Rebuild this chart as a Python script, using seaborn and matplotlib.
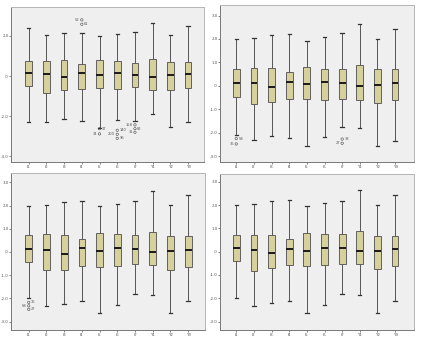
import numpy as np
import pandas as pd
import matplotlib
matplotlib.use("Agg")
import matplotlib.pyplot as plt
import seaborn as sns

categories = ["I1", "I2", "I3", "I4", "I5", "I6", "I7", "Y1", "Y2", "Y3"]

# each entry: [lower whisker, Q1, median, Q3, upper whisker]
panel1_stats = [
    [-2.31, -0.50, 0.13, 0.74, 2.41],
    [-2.28, -0.83, 0.08, 0.74, 2.07],
    [-2.15, -0.69, -0.03, 0.78, 2.15],
    [-2.26, -0.66, 0.13, 0.58, 2.15],
    [-2.60, -0.61, 0.05, 0.79, 1.98],
    [-2.21, -0.66, 0.17, 0.74, 2.10],
    [-2.23, -0.56, 0.05, 0.63, 2.20],
    [-1.88, -0.69, -0.03, 0.84, 2.66],
    [-2.55, -0.69, 0.05, 0.71, 2.03],
    [-2.31, -0.61, 0.08, 0.69, 2.51],
]
panel2_stats = [
    [-2.10, -0.48, 0.14, 0.71, 2.00],
    [-2.30, -0.78, 0.11, 0.77, 2.03],
    [-2.16, -0.71, -0.03, 0.77, 2.17],
    [-2.24, -0.55, 0.18, 0.60, 2.21],
    [-2.58, -0.55, 0.07, 0.79, 1.93],
    [-2.20, -0.60, 0.17, 0.74, 2.10],
    [-1.76, -0.57, 0.11, 0.71, 2.24],
    [-1.80, -0.62, 0.01, 0.89, 2.64],
    [-2.55, -0.74, 0.04, 0.71, 2.00],
    [-2.37, -0.60, 0.14, 0.71, 2.41],
]
panel3_stats = [
    [-1.99, -0.43, 0.14, 0.71, 2.00],
    [-2.33, -0.79, 0.07, 0.76, 2.01],
    [-2.23, -0.76, -0.10, 0.71, 2.16],
    [-2.10, -0.59, 0.16, 0.56, 2.21],
    [-2.64, -0.63, 0.04, 0.81, 1.97],
    [-2.30, -0.61, 0.16, 0.76, 2.07],
    [-1.81, -0.53, 0.11, 0.71, 2.19],
    [-1.84, -0.57, 0.01, 0.87, 2.64],
    [-2.63, -0.76, 0.03, 0.67, 2.01],
    [-2.10, -0.63, 0.10, 0.67, 2.44],
]
panel4_stats = [
    [-1.99, -0.41, 0.16, 0.71, 2.00],
    [-2.31, -0.81, 0.07, 0.71, 2.04],
    [-2.21, -0.71, -0.06, 0.71, 2.19],
    [-2.10, -0.57, 0.10, 0.54, 2.21],
    [-2.64, -0.63, 0.04, 0.81, 1.97],
    [-2.27, -0.59, 0.16, 0.76, 2.09],
    [-1.81, -0.53, 0.14, 0.76, 2.19],
    [-1.84, -0.53, 0.04, 0.89, 2.64],
    [-2.63, -0.74, 0.04, 0.69, 2.01],
    [-2.10, -0.61, 0.10, 0.67, 2.44],
]

# outliers: (category, value, case label)
panel1_outliers = [("I4", 2.58, "61"), ("I4", 2.80, "52"),
                   ("I5", -2.62, "17"), ("I5", -2.88, "34"),
                   ("I6", -2.70, "140"), ("I6", -2.90, "200"), ("I6", -3.10, "96"),
                   ("I7", -2.43, "158"), ("I7", -2.62, "82"), ("I7", -2.80, "31")]
panel2_outliers = [("I1", -2.25, "58"), ("I1", -2.48, "36"),
                   ("I7", -2.27, "38"), ("I7", -2.45, "27")]
panel3_outliers = [("I1", -2.17, "36"), ("I1", -2.32, "58"), ("I1", -2.47, "27")]
panel4_outliers = []

panel1_ticks = [2, 0, -2, -4]
panel1_ticklabels = ["2.0", ".0", "-2.0", "-4.0"]
other_ticks = [3, 2, 1, 0, -1, -2, -3]
other_ticklabels = ["3.0", "2.0", "1.0", ".0", "-1.0", "-2.0", "-3.0"]

W, H = 424, 342
fig = plt.figure(figsize=(W / 100, H / 100), dpi=100)
fig.patch.set_facecolor("white")

def rect(l, t, r, b):
    return [l / W, (H - b) / H, (r - l) / W, (b - t) / H]

panels = [
    (rect(11, 7, 204, 162), panel1_stats, panel1_outliers, (-4.28, 3.44), (-1.0, 9.9), panel1_ticks, panel1_ticklabels),
    (rect(220, 5, 414, 162), panel2_stats, panel2_outliers, (-3.25, 3.45), (-0.92, 10.07), other_ticks, other_ticklabels),
    (rect(11, 173, 205, 330), panel3_stats, panel3_outliers, (-3.36, 3.4), (-1.0, 9.95), other_ticks, other_ticklabels),
    (rect(220, 174, 414, 330), panel4_stats, panel4_outliers, (-3.36, 3.33), (-0.92, 10.07), other_ticks, other_ticklabels),
]

box_fill = "#d6d19c"
edge = "#4d4d4d"

for pos, stats, outs, ylim, xlim, ticks, ticklabels in panels:
    ax = fig.add_axes(pos)
    ax.set_facecolor("#efefef")
    rows = []
    for cat, vals in zip(categories, stats):
        for v in vals:
            rows.append((cat, v))
    df = pd.DataFrame(rows, columns=["item", "value"])
    sns.boxplot(data=df, x="item", y="value", order=categories, ax=ax,
                whis=(0, 100), showfliers=False, width=0.38,
                color=box_fill, linecolor=edge, linewidth=0.6,
                boxprops=dict(facecolor=box_fill, edgecolor=edge, linewidth=0.6),
                medianprops=dict(color="#1a1a1a", linewidth=1.4),
                whiskerprops=dict(color="#555555", linewidth=0.7),
                capprops=dict(color="#333333", linewidth=0.9))
    if outs:
        odf = pd.DataFrame({"x": [categories.index(o[0]) for o in outs],
                            "y": [o[1] for o in outs]})
        sns.scatterplot(data=odf, x="x", y="y", ax=ax, marker="o", s=3,
                        facecolor="none", edgecolor="#444444", linewidth=0.4,
                        legend=False, zorder=5)
        for i, (c, v, lab) in enumerate(outs):
            side = 1 if i % 2 == 0 else -1
            ax.text(categories.index(c) + 0.12 * side, v, lab, fontsize=2.6,
                    color="#555555", va="center",
                    ha="left" if side > 0 else "right")
    ax.set_xlim(*xlim)
    ax.set_ylim(*ylim)
    ax.set_yticks(ticks)
    ax.set_yticklabels(ticklabels)
    ax.set_xlabel("")
    ax.set_ylabel("")
    ax.tick_params(axis="both", labelsize=2.9, colors="#555555", length=1.2,
                   width=0.5, pad=0.6)
    for s in ["top", "right"]:
        ax.spines[s].set_color("#b5b5b5")
        ax.spines[s].set_linewidth(0.7)
    for s in ["left", "bottom"]:
        ax.spines[s].set_color("#777777")
        ax.spines[s].set_linewidth(0.7)

fig.savefig("out.png", dpi=100, facecolor="white")
